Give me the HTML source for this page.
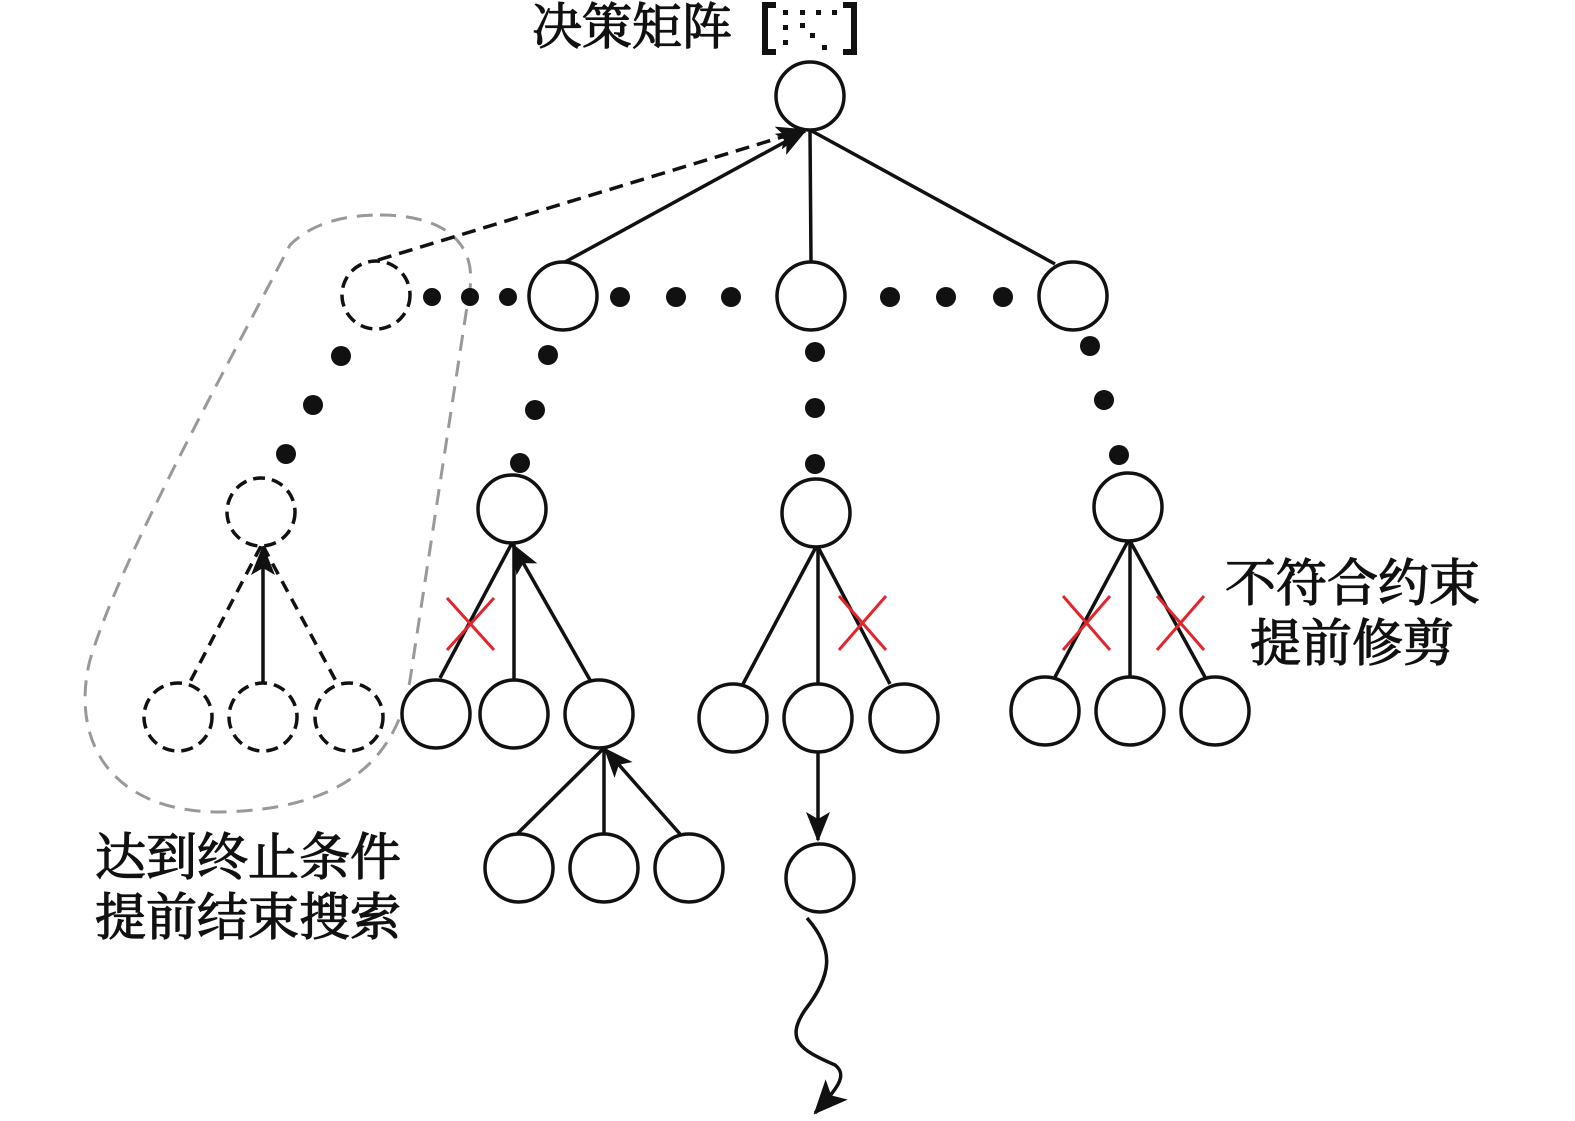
<!DOCTYPE html>
<html><head><meta charset="utf-8"><style>body{margin:0;background:#fff}svg{display:block}text{font-family:"Liberation Serif","Noto Serif CJK SC",serif;fill:#111;stroke:#111;stroke-width:1.2px}</style></head><body>
<svg width="1575" height="1121" viewBox="0 0 1575 1121">
<defs>
<marker id="b" markerWidth="30" markerHeight="30" refX="28" refY="15" orient="auto" markerUnits="userSpaceOnUse" viewBox="0 0 30 30"><path d="M0,3 L30,15 L0,27 L7,15z" fill="#111"/></marker>
<marker id="c" markerWidth="34" markerHeight="34" refX="32" refY="17" orient="auto" markerUnits="userSpaceOnUse" viewBox="0 0 34 34"><path d="M0,2 L34,17 L0,32 L8,17z" fill="#111"/></marker></defs>
<path d="M380 215 C440 215 482 240 468 300 L410 680 C395 770 330 810 220 812 C110 812 70 740 90 660 C120 560 220 380 290 245 C310 225 340 215 380 215Z" fill="none" stroke="#999" stroke-width="3" stroke-dasharray="16 10"/>
<g stroke="#111" stroke-width="3.5" fill="none">
<line x1="565" y1="262" x2="805" y2="131" marker-end="url(#b)"/>
<line x1="810" y1="130" x2="811" y2="262"/>
<line x1="810" y1="130" x2="1055" y2="264"/>
<line x1="378" y1="260" x2="805" y2="130" stroke-dasharray="14 8" marker-end="url(#b)"/>
<line x1="512" y1="543" x2="440" y2="678"/><line x1="514" y1="680" x2="514" y2="543"/><line x1="590" y1="680" x2="513" y2="545" marker-end="url(#b)"/>
<line x1="604" y1="748" x2="517" y2="834"/><line x1="604" y1="834" x2="604" y2="748"/><line x1="680" y1="834" x2="605" y2="749" marker-end="url(#b)"/>
<line x1="816" y1="547" x2="743" y2="684"/><line x1="818" y1="547" x2="818" y2="684"/><line x1="818" y1="547" x2="890" y2="684"/>
<line x1="818" y1="752" x2="818" y2="840" marker-end="url(#b)"/>
<line x1="1128" y1="541" x2="1055" y2="677"/><line x1="1130" y1="541" x2="1130" y2="677"/><line x1="1130" y1="541" x2="1205" y2="677"/>
<line x1="261" y1="546" x2="190" y2="682" stroke-dasharray="12 8"/><line x1="263" y1="683" x2="263" y2="547" marker-end="url(#b)"/><line x1="263" y1="546" x2="337" y2="683" stroke-dasharray="12 8"/>
<path d="M807 918 C835 950 832 975 805 1010 C785 1040 800 1050 835 1065 C848 1075 838 1088 815 1113" marker-end="url(#c)"/>
</g>
<g stroke="#111" stroke-width="3.5" fill="#fff">
<circle cx="810" cy="96" r="34"/><circle cx="563" cy="296" r="34"/><circle cx="811" cy="296" r="34"/><circle cx="1073" cy="296" r="34"/>
<circle cx="512" cy="509" r="34"/><circle cx="816" cy="513" r="34"/><circle cx="1128" cy="507" r="34"/>
<circle cx="436" cy="714" r="34"/><circle cx="514" cy="714" r="34"/><circle cx="599" cy="714" r="34"/>
<circle cx="733" cy="718" r="34"/><circle cx="818" cy="718" r="34"/><circle cx="904" cy="718" r="34"/>
<circle cx="1045" cy="711" r="34"/><circle cx="1130" cy="711" r="34"/><circle cx="1215" cy="711" r="34"/>
<circle cx="519" cy="868" r="34"/><circle cx="604" cy="868" r="34"/><circle cx="689" cy="868" r="34"/><circle cx="820" cy="878" r="34"/>
<g stroke-dasharray="12 7"><circle cx="376" cy="295" r="34"/><circle cx="261" cy="512" r="34"/><circle cx="178" cy="717" r="34"/><circle cx="263" cy="717" r="34"/><circle cx="349" cy="717" r="34"/></g>
</g>
<g fill="#111">
<circle cx="432" cy="297" r="9"/><circle cx="470" cy="297" r="9"/><circle cx="508" cy="297" r="9"/>
<circle cx="620" cy="297" r="10"/><circle cx="676" cy="297" r="10"/><circle cx="731" cy="297" r="10"/>
<circle cx="890" cy="297" r="10"/><circle cx="946" cy="297" r="10"/><circle cx="1003" cy="297" r="10"/>
<circle cx="341" cy="356" r="10"/><circle cx="313" cy="405" r="10"/><circle cx="286" cy="454" r="10"/>
<circle cx="548" cy="355" r="10"/><circle cx="535" cy="410" r="10"/><circle cx="520" cy="463" r="10"/>
<circle cx="815" cy="352" r="10"/><circle cx="815" cy="408" r="10"/><circle cx="815" cy="464" r="10"/>
<circle cx="1090" cy="346" r="10"/><circle cx="1104" cy="400" r="10"/><circle cx="1119" cy="455" r="10"/>
</g>
<g stroke="#e2252b" stroke-width="3">
<path d="M447 598 L494 650 M494 598 L447 650"/><path d="M839 596 L886 650 M886 596 L839 650"/>
<path d="M1063 596 L1110 650 M1110 596 L1063 650"/><path d="M1157 596 L1204 650 M1204 596 L1157 650"/>
</g>
<path d="M776 5 H765 V52 H776 M843 5 H854 V52 H843" stroke="#111" stroke-width="6" fill="none"/>
<g fill="#111"><rect x="783" y="10" width="5" height="5"/><rect x="800" y="10" width="5" height="5"/><rect x="816" y="10" width="5" height="5"/><rect x="832" y="10" width="5" height="5"/><rect x="783" y="25" width="5" height="5"/><rect x="800" y="23" width="5" height="5"/><rect x="810" y="33" width="5" height="5"/><rect x="783" y="40" width="5" height="5"/><rect x="822" y="45" width="5" height="5"/></g>
<text x="532" y="44" font-size="50">决策矩阵</text>
<text x="1225" y="601" font-size="51">不符合约束</text>
<text x="1250" y="661" font-size="51">提前修剪</text>
<text x="95" y="875" font-size="51">达到终止条件</text>
<text x="95" y="935" font-size="51">提前结束搜索</text>
</svg>
</body></html>
